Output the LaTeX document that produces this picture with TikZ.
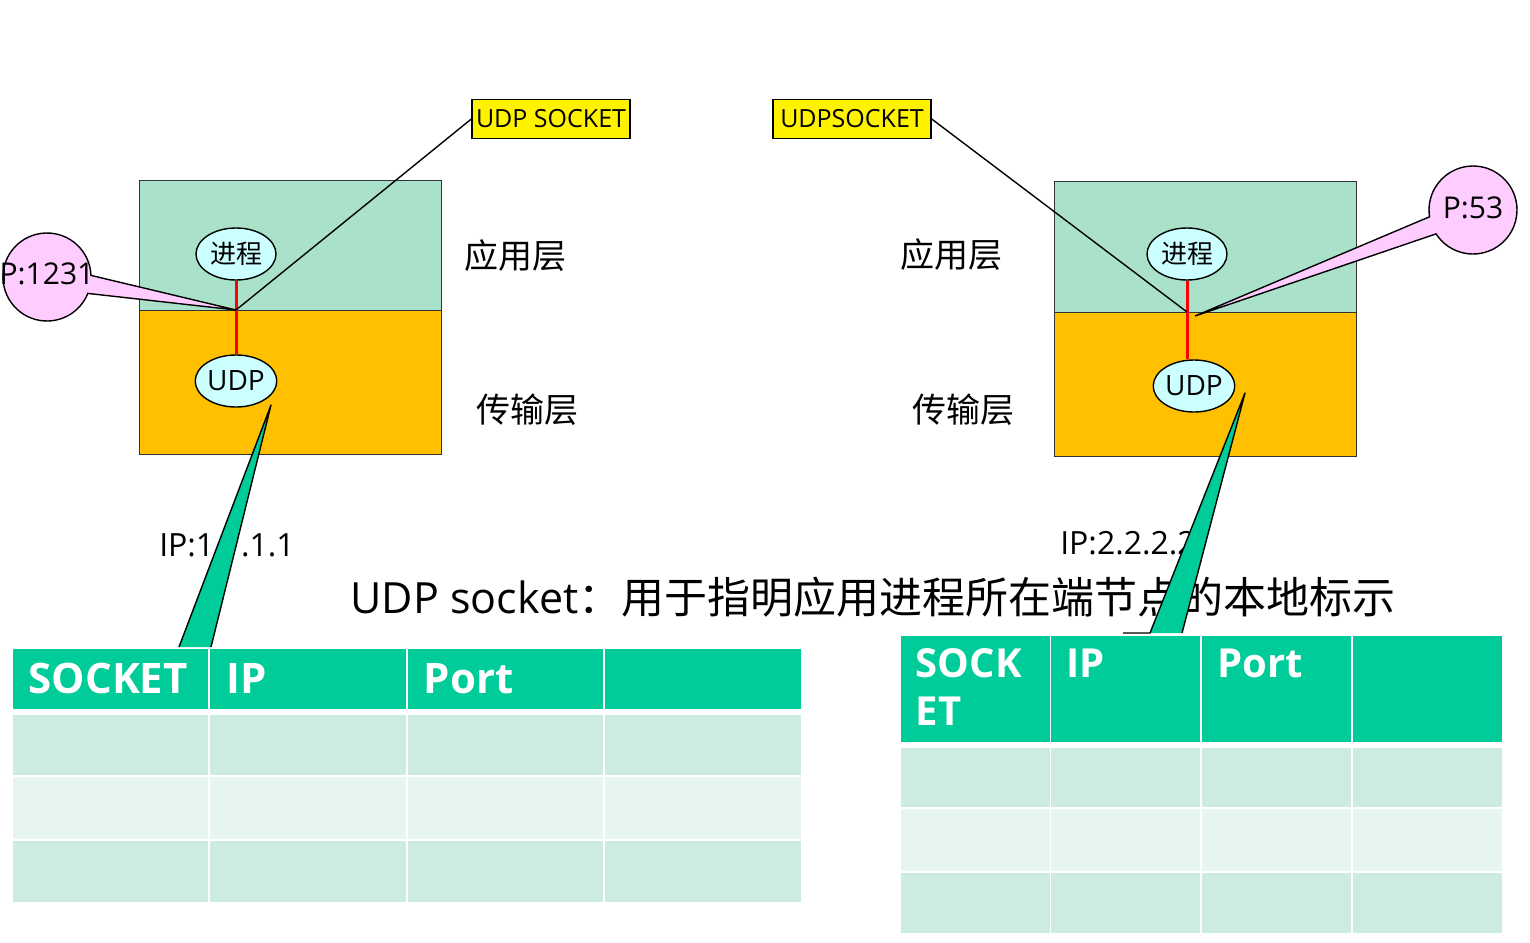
\documentclass[tikz,border=0pt]{standalone}
\usepackage{fontspec}
\setmainfont{Open Sans}
\newfontfamily\cjk{Noto Sans CJK SC}
\usetikzlibrary{positioning, shapes.geometric, shapes.callouts}

\definecolor{appgreen}{RGB}{170,225,202}
\definecolor{transorange}{RGB}{255,192,0}
\definecolor{bubble}{RGB}{204,255,255}
\definecolor{portpink}{RGB}{255,204,255}
\definecolor{headgreen}{RGB}{0,204,153}
\definecolor{rowdark}{RGB}{204,236,223}
\definecolor{rowlight}{RGB}{230,245,238}

\begin{document}
\begin{tikzpicture}[
    x=0.5pt, y=-0.5pt, line width=0.7pt,
    layer/.style={rectangle, draw=black!80, minimum width=151pt, anchor=north west, inner sep=0pt},
    proc/.style={ellipse, draw, fill=bubble, minimum width=40pt, minimum height=26pt, inner sep=0pt},
    sockbox/.style={rectangle, draw, fill=yellow, minimum width=79pt, minimum height=19.5pt, inner sep=1pt, font=\fontsize{12.5}{15}\selectfont},
    portcall/.style={ellipse callout, draw, fill=portpink, minimum size=44pt, inner sep=0pt, callout pointer arc=24, font=\fontsize{15}{18}\selectfont},
    layertxt/.style={font=\cjk\fontsize{17}{20}\selectfont},
    iptxt/.style={font=\fontsize{16}{19}\selectfont},
    wedge/.style={draw, fill=headgreen, line join=round},
    cell/.style={rectangle, anchor=north west, inner sep=0pt},
    headtxt/.style={text=white, font=\bfseries\fontsize{21}{24}\selectfont, align=left, inner sep=0pt}
]
\useasboundingbox (0,0) rectangle (1530,942);

% Left host
\node[layer, fill=appgreen, minimum height=65pt] (lApp) at (139,180) {};
\node[layer, fill=transorange, minimum height=72pt] (lTrans) at (139,310) {};
\node[proc, font=\cjk\fontsize{13}{15}\selectfont] (lProc) at (236,254) {进程};
\node[proc, font=\fontsize{14}{16}\selectfont] (lUdp) at (236,381) {UDP};
\draw[red, line width=1.5pt] (lProc) -- (lUdp);
\coordinate (lJoin) at (236,310);

\node[sockbox] (lSock) at (551,119) {UDP SOCKET};
\draw (lJoin) -- (lSock.west);
\node[portcall, callout absolute pointer={(lJoin)}] (lPort) at (47,277) {\makebox[0pt]{\raisebox{3pt}{P:1231}}};

\node[layertxt] (lAppTxt) at (515,256) {应用层};
\node[layertxt] (lTransTxt) at (527,410) {传输层};

% Right host
\node[layer, fill=appgreen, minimum height=65.5pt] (rApp) at (1054,181) {};
\node[layer, fill=transorange, minimum height=72pt] (rTrans) at (1054,312) {};
\node[proc, font=\cjk\fontsize{13}{15}\selectfont] (rProc) at (1187,254) {进程};
\node[proc, font=\fontsize{14}{16}\selectfont] (rUdp) at (1194,386) {UDP};
\draw[red, line width=1.5pt] (rProc.south) -- (rProc.south |- rUdp.north);
\coordinate (rJoin) at (1187,312);
\coordinate (rPortTip) at (1195,316);

\node[sockbox] (rSock) at (852,119) {UDPSOCKET};
\draw (rJoin) -- (rSock.east);
\node[portcall, callout absolute pointer={(rPortTip)}] (rPort) at (1473,210) {\makebox[0pt]{\raisebox{2pt}{P:53}}};

\node[layertxt] (rAppTxt) at (951,255) {应用层};
\node[layertxt] (rTransTxt) at (963,410) {传输层};

% Addresses and caption
\node[iptxt] (lIp) at (227,545) {IP:1.1.1.1};
\node[iptxt] (rIp) at (1128,543) {IP:2.2.2.2};
\node[font=\fontsize{21.5}{25}\selectfont] (caption) at (873,597) {UDP socket{\cjk ：用于指明应用进程所在端节点的本地标示}};

% Left socket table
\foreach \c in {0,...,3} {
  \node[cell, fill=headgreen, minimum width=97.75pt, minimum height=30pt] (lH\c) at (12+197.5*\c,648) {};
  \node[cell, fill=rowdark, minimum width=97.75pt, minimum height=30pt] (lA\c) at (12+197.5*\c,714) {};
  \node[cell, fill=rowlight, minimum width=97.75pt, minimum height=31pt] (lB\c) at (12+197.5*\c,776) {};
  \node[cell, fill=rowdark, minimum width=97.75pt, minimum height=30.5pt] (lC\c) at (12+197.5*\c,840) {};
}
\node[headtxt, right=8pt of lH0.west] (lHt0) {SOCKET};
\node[headtxt, right=8pt of lH1.west] (lHt1) {IP};
\node[headtxt, right=8pt of lH2.west] (lHt2) {Port};

% Right socket table
\foreach \c in {0,...,3} {
  \node[cell, fill=headgreen, minimum width=74.4pt, minimum height=53pt] (rH\c) at (900+150.75*\c,635) {};
  \node[cell, fill=rowdark, minimum width=74.4pt, minimum height=29.5pt] (rA\c) at (900+150.75*\c,747) {};
  \node[cell, fill=rowlight, minimum width=74.4pt, minimum height=31pt] (rB\c) at (900+150.75*\c,808) {};
  \node[cell, fill=rowdark, minimum width=74.4pt, minimum height=30pt] (rC\c) at (900+150.75*\c,872) {};
}
\node[headtxt, font=\bfseries\fontsize{20}{24}\selectfont, below right=6.5pt and 7.5pt of rH0.north west] (rHt0) {SOCK\\ET};
\node[headtxt, font=\bfseries\fontsize{20}{24}\selectfont, below right=6.5pt and 7.5pt of rH1.north west] (rHt1) {IP};
\node[headtxt, font=\bfseries\fontsize{20}{24}\selectfont, below right=6.5pt and 7.5pt of rH2.north west] (rHt2) {Port};

% Pointers from UDP to the tables
\coordinate (lWedgeTip) at (271,405);
\coordinate (lWedgeA) at (179,647);
\coordinate (lWedgeB) at (211,647);
\filldraw[wedge] (lWedgeB) -- (lWedgeTip) -- (lWedgeA);
\coordinate (rWedgeTip) at (1245,393);
\coordinate (rWedgeA) at (1150,633);
\coordinate (rWedgeB) at (1182,633);
\coordinate (rWedgeFoot) at (1123,633);
\filldraw[wedge] (rWedgeB) -- (rWedgeTip) -- (rWedgeA) -- (rWedgeFoot);

\end{tikzpicture}
\end{document}
